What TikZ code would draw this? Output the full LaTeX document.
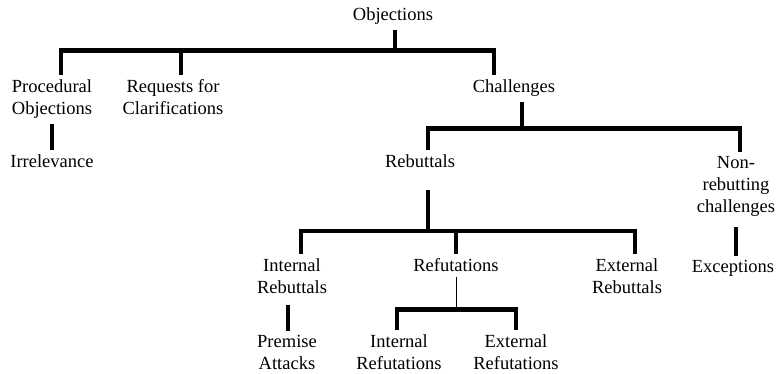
\documentclass[tikz,border=0pt]{standalone}
\usepackage{fontspec}
\setmainfont{Liberation Serif}
\tikzset{
	cat/.style={inner xsep=0pt, inner ysep=5pt, anchor=base, align=center, font=\fontsize{18.5}{22}\selectfont},
	branch/.style={line width=4.5pt, line join=miter},
	thinbranch/.style={line width=1pt}
}

\begin{document}
\begin{tikzpicture}[x=1pt, y=1pt]
	\useasboundingbox (0, 0) rectangle (777, 374);
	% categories (base = last line)
	\node[cat] (obj) at (393, 353) {Objections};
	\node[cat] (proc) at (52, 259) {Procedural\\Objections};
	\node[cat] (req) at (173, 259) {Requests for\\Clarifications};
	\node[cat] (chal) at (514, 281) {Challenges};
	\node[cat] (irr) at (52, 206) {Irrelevance};
	\node[cat] (reb) at (420, 206) {Rebuttals};
	\node[cat] (nonreb) at (736, 161) {Non-\\rebutting\\challenges};
	\node[cat] (intreb) at (292, 80) {Internal\\Rebuttals};
	\node[cat] (refu) at (456, 102) {Refutations};
	\node[cat] (extreb) at (627, 80) {External\\Rebuttals};
	\node[cat] (exc) at (733, 101) {Exceptions};
	\node[cat] (prem) at (287, 4) {Premise\\Attacks};
	\node[cat] (intref) at (399, 4) {Internal\\Refutations};
	\node[cat] (extref) at (516, 4) {External\\Refutations};
	% objections
	\draw[branch]([xshift=2pt]obj.south)--++(0, -20.5)coordinate(objbar);
	\draw[branch]([xshift=9pt]proc.north)|-(objbar)-|([xshift=-20pt]chal.north);
	\draw[branch]([xshift=8pt]req.north)--([xshift=8pt]req.north |- objbar);
	\draw[branch](proc.south)--(irr.north);
	% challenges
	\draw[branch]([xshift=8pt]chal.south)--++(0, -26.5)coordinate(chalbar);
	\draw[branch]([xshift=8pt]reb.north)|-(chalbar)-|([xshift=4pt]nonreb.north);
	\draw[branch, shorten <=5pt](nonreb.south)--(nonreb.south |- exc.north);
	% rebuttals
	\draw[branch, shorten <=17pt]([xshift=8pt]reb.south)--++(0, -57.5)coordinate(rebbar);
	\draw[branch]([xshift=9pt]intreb.north)|-(rebbar)-|([xshift=8pt]extreb.north);
	\draw[branch](refu.north)--(refu.north |- rebbar);
	\draw[branch, shorten <=6pt]([xshift=-4pt]intreb.south)--([xshift=-4pt]intreb.south |- prem.north);
	% refutations
	\draw[thinbranch](refu.south)--++(0, -32)coordinate(refubar);
	\draw[branch]([xshift=-2pt]intref.north)|-(refubar)-|(extref.north);
\end{tikzpicture}
\end{document}
